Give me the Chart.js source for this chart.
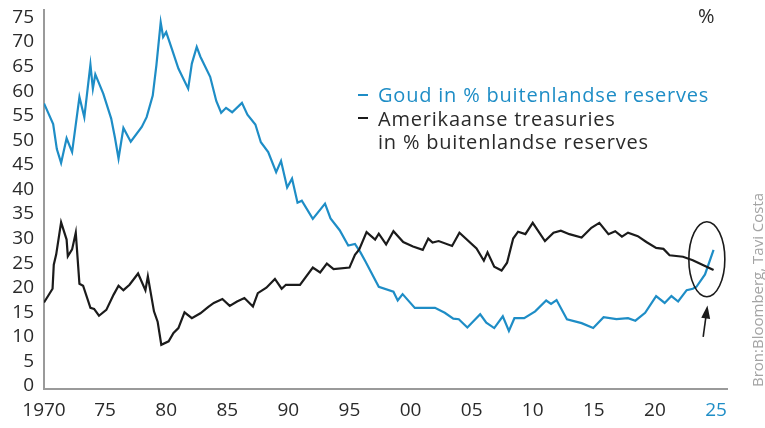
<!DOCTYPE html>
<html>
<head>
<meta charset="utf-8">
<script src="https://cdn.jsdelivr.net/npm/chart.js@4/dist/chart.umd.min.js"></script>
<style>
  html, body { margin: 0; padding: 0; background: #fff; }
  #wrap { width: 765px; height: 428px; position: relative; }
</style>
</head>
<body>
<div id="wrap"><canvas id="chart" width="765" height="428"></canvas></div>
<script>
// Goud in % buitenlandse reserves
const goldYears = [1970.0, 1970.75, 1971.05, 1971.4, 1971.85, 1972.3, 1972.9, 1973.3, 1973.8, 1974.0,
  1974.2, 1974.85, 1975.5, 1975.8, 1976.1, 1976.5, 1977.1, 1978.0, 1978.4, 1978.9,
  1979.2, 1979.55, 1979.75, 1980.0, 1980.45, 1981.0, 1981.8, 1982.1, 1982.5, 1982.8,
  1983.6, 1984.1, 1984.5, 1984.9, 1985.4, 1986.2, 1986.65, 1987.3, 1987.75, 1988.35,
  1989.0, 1989.4, 1989.9, 1990.3, 1990.75, 1991.1, 1992.0, 1993.0, 1993.45, 1994.2,
  1994.9, 1995.45, 1995.9, 1996.3, 1997.4, 1998.6, 1998.95, 1999.35, 2000.35, 2002.0,
  2002.8, 2003.5, 2003.95, 2004.65, 2005.7, 2006.2, 2006.85, 2007.55, 2008.05, 2008.5,
  2009.3, 2010.2, 2011.1, 2011.5, 2011.95, 2012.8, 2014.0, 2014.95, 2015.8, 2016.85,
  2017.8, 2018.4, 2019.2, 2020.1, 2020.8, 2021.35, 2021.9, 2022.6, 2023.1, 2023.4,
  2024.1, 2024.8];
const goldPct = [57.5, 53.3, 48.2, 45.4, 50.4, 47.6, 58.8, 54.7, 65.4, 60.5,
  63.4, 59.5, 54.4, 50.6, 46.3, 52.5, 49.7, 52.7, 54.7, 59.1,
  65.3, 74.0, 71.0, 72.0, 68.7, 64.6, 60.5, 65.6, 69.0, 67.0,
  62.9, 58.0, 55.6, 56.6, 55.7, 57.6, 55.2, 53.2, 49.6, 47.6,
  43.5, 45.8, 40.4, 42.2, 37.3, 37.7, 34.0, 37.1, 34.1, 31.7,
  28.6, 28.9, 27.2, 25.4, 20.2, 19.2, 17.4, 18.7, 15.9, 15.9,
  14.9, 13.7, 13.6, 11.9, 14.6, 12.9, 11.8, 14.2, 11.2, 13.8,
  13.8, 15.2, 17.4, 16.7, 17.5, 13.6, 12.8, 11.8, 14.0, 13.6,
  13.8, 13.3, 14.9, 18.3, 16.9, 18.3, 17.2, 19.5, 19.8, 20.2,
  22.7, 27.7];

// Amerikaanse treasuries in % buitenlandse reserves
const tsyYears = [1970.0, 1970.7, 1970.8, 1971.0, 1971.4, 1971.85, 1971.95, 1972.3, 1972.6, 1972.9,
  1973.2, 1973.8, 1974.1, 1974.5, 1975.1, 1975.7, 1976.1, 1976.5, 1977.0, 1977.7,
  1978.3, 1978.5, 1979.0, 1979.3, 1979.6, 1980.2, 1980.6, 1981.0, 1981.5, 1982.1,
  1982.8, 1983.45, 1983.9, 1984.6, 1985.2, 1985.8, 1986.4, 1987.1, 1987.5, 1988.2,
  1988.9, 1989.45, 1989.8, 1990.95, 1992.0, 1992.6, 1993.15, 1993.7, 1995.0, 1995.45,
  1995.8, 1996.4, 1997.1, 1997.4, 1998.0, 1998.6, 1999.4, 2000.2, 2001.0, 2001.45,
  2001.8, 2002.3, 2003.4, 2004.0, 2005.4, 2006.0, 2006.3, 2006.85, 2007.45, 2007.9,
  2008.4, 2008.8, 2009.4, 2010.0, 2011.0, 2011.7, 2012.3, 2013.0, 2014.0, 2014.8,
  2015.45, 2016.2, 2016.75, 2017.3, 2017.8, 2018.6, 2019.3, 2020.1, 2020.7, 2021.2,
  2022.3, 2023.1, 2024.1, 2024.8];
const tsyPct = [17.0, 19.8, 24.7, 26.8, 33.3, 29.8, 26.4, 27.8, 31.2, 20.8,
  20.4, 15.9, 15.7, 14.3, 15.5, 18.6, 20.4, 19.5, 20.6, 22.9,
  19.5, 22.3, 15.2, 13.1, 8.4, 9.1, 10.8, 11.8, 15.0, 13.8,
  14.8, 16.1, 16.9, 17.7, 16.3, 17.2, 17.9, 16.2, 18.9, 20.0,
  21.8, 19.8, 20.6, 20.6, 24.1, 23.1, 24.9, 23.8, 24.1, 26.7,
  27.8, 31.3, 29.8, 31.0, 28.8, 31.5, 29.3, 28.4, 27.7, 30.0,
  29.2, 29.5, 28.5, 31.2, 28.0, 25.5, 27.2, 24.3, 23.5, 25.1,
  30.0, 31.4, 30.9, 33.2, 29.5, 31.2, 31.6, 30.9, 30.2, 32.2,
  33.2, 30.9, 31.5, 30.4, 31.2, 30.5, 29.3, 28.1, 27.9, 26.6,
  26.3, 25.6, 24.4, 23.6];

const xTickValues = [1970, 1975, 1980, 1985, 1990, 1995, 2000, 2005, 2010, 2015, 2020, 2025];
const xTickLabels = ['1970', '75', '80', '85', '90', '95', '00', '05', '10', '15', '20', '25'];
const yTickValues = [0, 5, 10, 15, 20, 25, 30, 35, 40, 45, 50, 55, 60, 65, 70, 75];

const legendLines = ['Goud in % buitenlandse reserves', 'Amerikaanse treasuries', 'in % buitenlandse reserves'];
const sourceText = 'Bron:Bloomberg, Tavi Costa';

const BLUE = '#1e8dc6';
const BLACK = '#1b1b1b';
const TEXT = '#2a2a2a';
const FONT = '"Open Sans", "Noto Sans", sans-serif';

const toPoints = (xs, ys) => xs.map((x, i) => ({ x: x, y: ys[i] }));

// extra drawing: legend, unit, source, circle + arrow
const overlay = {
  id: 'overlay',
  afterDraw(chart) {
    const ctx = chart.ctx;
    const xs = chart.scales.x, ys = chart.scales.y;
    ctx.save();

    // legend
    ctx.font = '20px ' + FONT;
    ctx.letterSpacing = '0.8px';
    ctx.textBaseline = 'alphabetic';
    ctx.lineWidth = 2;
    ctx.strokeStyle = BLUE;
    ctx.beginPath(); ctx.moveTo(358, 95); ctx.lineTo(368, 95); ctx.stroke();
    ctx.strokeStyle = BLACK;
    ctx.beginPath(); ctx.moveTo(358, 118); ctx.lineTo(368, 118); ctx.stroke();
    ctx.fillStyle = BLUE;
    ctx.fillText(legendLines[0], 378, 102);
    ctx.fillStyle = TEXT;
    ctx.fillText(legendLines[1], 378, 125.5);
    ctx.fillText(legendLines[2], 378, 149);

    // unit
    ctx.letterSpacing = '0px';
    ctx.fillText('%', 698, 23);

    // source, rotated
    ctx.save();
    ctx.translate(763, 387);
    ctx.rotate(-Math.PI / 2);
    ctx.font = '15px ' + FONT;
    ctx.fillStyle = '#a3a3a3';
    ctx.fillText(sourceText, 0, 0);
    ctx.restore();

    // ellipse around last values
    const cx = xs.getPixelForValue(2024.25), cy = ys.getPixelForValue(25.8);
    ctx.strokeStyle = BLACK;
    ctx.lineWidth = 1.6;
    ctx.beginPath();
    ctx.ellipse(cx, cy, 18, 37.5, 0, 0, Math.PI * 2);
    ctx.stroke();

    // arrow
    const tx = xs.getPixelForValue(2023.95), ty = ys.getPixelForValue(10.0);
    const hx = xs.getPixelForValue(2024.3), hy = ys.getPixelForValue(16.4);
    const ang = Math.atan2(hy - ty, hx - tx);
    ctx.lineWidth = 1.6;
    ctx.beginPath(); ctx.moveTo(tx, ty); ctx.lineTo(hx - 8 * Math.cos(ang), hy - 8 * Math.sin(ang)); ctx.stroke();
    ctx.fillStyle = BLACK;
    ctx.beginPath();
    ctx.moveTo(hx, hy);
    ctx.lineTo(hx - 13 * Math.cos(ang) + 4.5 * Math.sin(ang), hy - 13 * Math.sin(ang) - 4.5 * Math.cos(ang));
    ctx.lineTo(hx - 13 * Math.cos(ang) - 4.5 * Math.sin(ang), hy - 13 * Math.sin(ang) + 4.5 * Math.cos(ang));
    ctx.closePath();
    ctx.fill();

    ctx.restore();
  }
};

new Chart(document.getElementById('chart'), {
  type: 'line',
  data: {
    datasets: [
      { label: legendLines[1], data: toPoints(tsyYears, tsyPct), borderColor: BLACK, borderWidth: 2.2, pointRadius: 0, tension: 0 },
      { label: legendLines[0], data: toPoints(goldYears, goldPct), borderColor: BLUE, borderWidth: 2.2, pointRadius: 0, tension: 0 }
    ]
  },
  options: {
    responsive: false,
    animation: false,
    layout: { padding: { top: 10, right: 38, left: 0, bottom: 0 } },
    plugins: { legend: { display: false }, tooltip: { enabled: false } },
    scales: {
      x: {
        type: 'linear',
        min: 1970,
        max: 2025.9,
        grid: { display: false, drawTicks: false },
        border: { display: true, color: '#9a9a9a', width: 2 },
        afterBuildTicks: axis => { axis.ticks = xTickValues.map(v => ({ value: v })); },
        afterFit: axis => { axis.height = 39; axis.paddingLeft = 0; axis.paddingRight = 0; },
        ticks: {
          autoSkip: false,
          maxRotation: 0,
          padding: 10,
          font: { family: FONT, size: 19 },
          color: c => (c.tick && c.tick.value === 2025 ? BLUE : TEXT),
          callback: v => xTickLabels[xTickValues.indexOf(v)]
        }
      },
      y: {
        min: -0.6,
        max: 76.5,
        grid: { display: false, drawTicks: false },
        border: { display: true, color: '#9a9a9a', width: 2 },
        afterBuildTicks: axis => { axis.ticks = yTickValues.map(v => ({ value: v })); },
        afterFit: axis => { axis.width = 44; axis.paddingTop = 0; axis.paddingBottom = 0; },
        ticks: {
          autoSkip: false,
          padding: 10,
          font: { family: FONT, size: 19 },
          color: TEXT
        }
      }
    }
  },
  plugins: [overlay]
});
</script>
</body>
</html>
